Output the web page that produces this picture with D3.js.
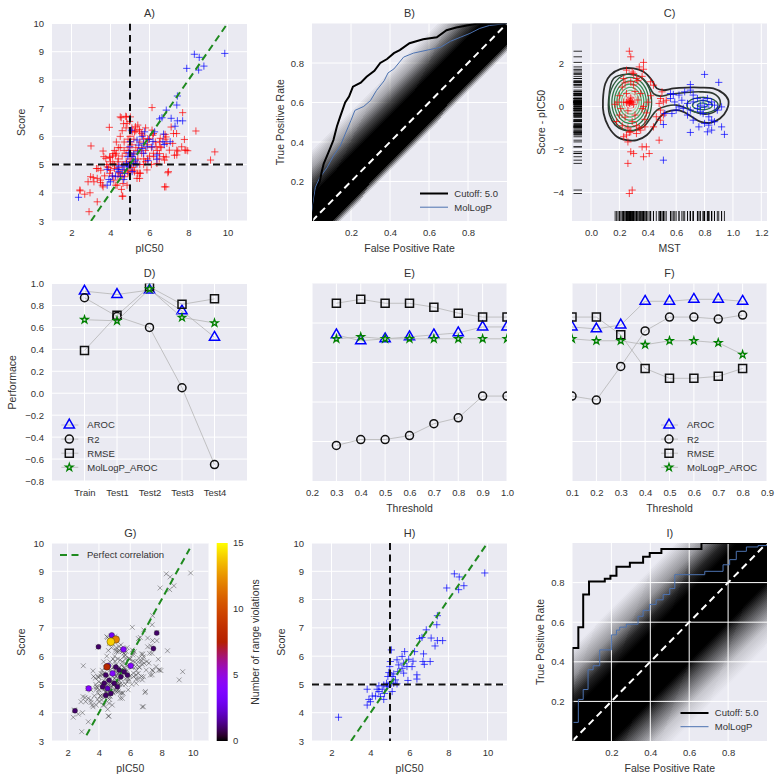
<!DOCTYPE html>
<html><head><meta charset="utf-8">
<script src="https://cdn.jsdelivr.net/npm/d3@7"></script>
<style>
body{margin:0;background:#fff;}
text{font-family:"Liberation Sans",Arial,sans-serif;fill:#333;}
</style></head><body>
<svg id="chart" width="784" height="783"></svg>
<script>
// ---------------- DATA ----------------
// Panel A / G / H : training set (red) and test set (blue), [pIC50, Score]
const trainPoints = [
[3.00,5.66],[2.44,4.07],[2.68,3.95],[2.95,4.00],[2.90,3.33],[3.32,3.68],[2.98,4.57],[2.85,4.39],[3.15,4.39],[3.32,4.51],
[3.49,4.36],[3.58,4.27],[3.36,4.86],[3.66,5.28],[3.97,5.25],[3.94,6.32],[4.26,5.34],[4.12,5.04],[4.17,4.45],[4.60,3.88],
[4.34,4.27],[4.55,6.66],[4.82,6.69],[5.02,6.69],[4.85,6.46],[5.11,6.16],[5.28,6.34],[5.50,6.16],[6.13,7.02],[6.13,6.22],
[6.55,5.93],[6.80,6.07],[7.23,6.10],[7.70,6.84],[8.38,6.19],[7.79,5.89],[7.82,5.51],[7.65,5.63],[6.89,5.75],[6.55,5.63],
[7.40,5.51],[7.40,5.34],[6.72,5.28],[6.21,5.28],[6.38,5.04],[6.97,4.75],[6.84,4.21],[9.13,5.16],[9.35,5.45],[7.96,5.49],
[5.87,4.81],[5.53,4.69],[5.36,4.51],[4.85,4.27],[4.63,3.88],[4.43,4.71],[3.83,4.92],
[3.62,5.48],[3.76,5.22],[3.96,5.27],[4.13,5.39],[4.38,5.10],[4.21,4.86],[3.28,4.86],[3.11,4.54],[3.48,4.45],[3.62,4.21],
[2.43,4.10],[4.50,6.69],[4.78,6.71],[4.98,6.53],[4.67,6.45],[5.23,6.16],[5.49,6.24],[5.66,6.04],[5.91,5.92],[6.17,6.04],
[6.51,5.80],[6.34,5.63],[6.85,5.98],[7.11,6.33],[7.39,6.10],[7.19,5.75],[7.02,5.51],[7.45,5.48],[7.87,5.51],[7.28,5.33],
[6.85,5.27],[6.51,5.39],[6.77,5.16],[6.94,4.71],[6.77,4.21],[5.49,4.51],[5.40,4.69],[5.23,4.74],[4.89,4.74],[4.72,4.57],
[4.38,4.57],[4.64,4.33],[4.56,4.12],[4.27,4.27],[3.96,4.69],
[4.3,5.4],[4.4,5.2],[4.5,5.6],[4.6,5.0],[4.6,5.3],[4.7,5.5],[4.7,5.8],[4.8,5.1],[4.8,5.4],[4.9,5.0],
[4.9,5.6],[4.9,5.9],[5.0,5.2],[5.0,5.5],[5.0,6.0],[5.1,4.9],[5.1,5.3],[5.1,5.7],[5.2,5.1],[5.2,5.4],
[5.2,5.9],[5.3,5.0],[5.3,5.6],[5.3,6.2],[5.4,5.2],[5.4,5.5],[5.5,5.8],[5.5,5.0],[5.6,5.4],[5.6,5.6],
[5.7,5.2],[5.7,5.9],[5.8,5.5],[5.8,5.1],[5.9,5.7],[6.0,5.3],[6.0,5.9],[6.1,5.6],[6.2,5.4],[6.3,5.8],
[6.4,5.5],[4.4,4.9],[4.5,4.7],[4.6,4.6],[4.2,5.0],[4.1,5.3],[4.0,5.1],[4.3,5.8],[4.5,6.0],[4.6,6.2],
[4.8,6.3],[5.1,6.3],[5.4,6.4],[4.7,4.8],[4.9,4.7],[5.2,4.8],[5.5,4.7],[5.0,4.8],[4.4,5.6],[4.2,5.5],
[3.9,4.9],[3.8,5.0],[4.0,4.8],[4.1,4.6],[3.7,4.6],[3.5,4.8],[5.7,5.0],[5.9,5.2],[6.1,5.0],[6.5,5.2],
[6.6,5.6],[6.8,5.9],[5.6,6.1],[5.8,6.3],[6.2,6.1]
];
const testPoints = [
[2.36,3.84],[8.30,8.91],[8.55,8.80],[9.86,8.94],[7.91,8.41],[8.79,8.49],[8.52,8.35],[7.43,7.43],[6.86,6.93],[6.64,6.66],
[6.52,6.62],[7.11,6.64],[7.43,6.55],[7.70,6.55],[7.31,6.36],[6.26,6.16],[5.75,6.16],[6.72,6.08],[7.40,7.11],[7.06,5.81],
[6.69,5.81],[6.76,5.71],[6.18,5.82],[6.13,5.63],[6.38,5.34],[6.38,5.19],[5.92,5.14],[5.96,5.89],[5.87,5.63],[5.62,5.99],
[5.70,5.75],[5.45,5.69],[5.70,5.40],[5.62,5.57],[5.36,5.87],[5.07,6.22],[5.02,5.81],[4.99,5.63],[4.94,5.42],[5.11,5.28],
[4.89,5.28],[5.19,5.37],[5.40,5.45],[5.28,5.16],[5.06,5.04],[4.82,5.04],[4.68,4.98],[4.43,4.95],[4.34,4.83],[4.60,4.83],
[4.85,4.92],[5.11,4.75],[5.36,5.02],[4.72,4.68],[4.51,4.57],[4.26,4.59],[4.09,4.59],[3.92,4.47],[3.83,4.83],[3.83,4.27],
[4.00,4.39],[4.68,4.47],[4.43,4.75],[5.19,5.04],[4.90,4.98]
];
const cutoff = 5.0;
const diagA = [3, 10];
const diagG = [3.2, 9.8];

// Panel B / I : ROC curves [FPR, TPR]
const rocB_cutoff = [[0,0],[0.01,0.08],[0.02,0.14],[0.03,0.18],[0.04,0.2],[0.05,0.25],[0.06,0.29],[0.077,0.33],[0.094,0.37],[0.11,0.41],[0.128,0.48],[0.145,0.53],[0.17,0.6],[0.19,0.63],[0.21,0.68],[0.25,0.70],[0.28,0.73],[0.32,0.76],[0.35,0.80],[0.385,0.82],[0.42,0.85],[0.45,0.865],[0.5,0.9],[0.57,0.92],[0.64,0.93],[0.69,0.966],[0.74,0.98],[0.795,0.99],[0.85,1.0],[1,1]];
const rocB_mollogp = [[0,0],[0,0.04],[0.017,0.17],[0.04,0.22],[0.077,0.27],[0.11,0.33],[0.145,0.38],[0.17,0.44],[0.2,0.51],[0.22,0.56],[0.265,0.58],[0.3,0.61],[0.33,0.66],[0.37,0.71],[0.39,0.75],[0.42,0.77],[0.47,0.83],[0.52,0.85],[0.59,0.865],[0.66,0.88],[0.71,0.91],[0.76,0.93],[0.81,0.95],[0.86,0.975],[0.91,0.99],[1,1]];
const rocI_cutoff = [[0,0],[0,0.47],[0.03,0.575],[0.055,0.74],[0.085,0.806],[0.166,0.82],[0.195,0.835],[0.226,0.88],[0.295,0.90],[0.363,0.93],[0.397,0.95],[0.457,0.97],[0.663,1.0],[1,1]];
const rocI_mollogp = [[0,0.094],[0.03,0.21],[0.055,0.26],[0.08,0.36],[0.106,0.38],[0.14,0.46],[0.2,0.536],[0.226,0.56],[0.243,0.575],[0.277,0.59],[0.337,0.63],[0.363,0.66],[0.397,0.69],[0.43,0.713],[0.466,0.74],[0.5,0.77],[0.526,0.84],[0.68,0.857],[0.774,0.89],[0.808,0.916],[0.842,0.958],[0.894,0.98],[0.954,0.987],[1,0.987]];
const rocLegend = ["Cutoff: 5.0", "MolLogP"];
// null-model band profile: [TPR-FPR offset, darkness]
const bandB = [[0.36,0],[0.27,0.3],[0.2,0.7],[0.13,1],[-0.1,1],[-0.145,0]];
const bandI = [[0.47,0],[0.33,0.35],[0.22,0.85],[0.15,1],[-0.2,1],[-0.3,0.6],[-0.42,0.15],[-0.52,0]];

// Panel C : [MST, Score - pIC50]
const cTrain = [
[0.27,2.57],[0.28,2.31],[0.37,2.05],[0.34,1.84],[0.37,1.73],[0.25,1.69],[0.30,1.53],[0.23,1.30],[0.28,1.15],[0.32,1.30],
[0.42,1.15],[0.44,0.99],[0.50,0.68],[0.49,0.37],[0.48,0.14],[0.51,0.21],[0.53,0.29],[0.49,-0.17],[0.51,-0.40],[0.46,-0.48],
[0.49,-0.64],[0.44,-0.95],[0.38,-0.95],[0.35,-1.10],[0.32,-1.26],[0.28,-1.18],[0.25,-1.33],[0.23,-1.41],[0.26,-1.65],[0.48,-1.57],
[0.36,-1.88],[0.39,-1.88],[0.28,-2.11],[0.30,-2.19],[0.41,-2.19],[0.37,-2.34],[0.26,-2.65],[0.29,-3.89],[0.27,-4.05],
[0.20,0.5],[0.22,0.9],[0.25,0.6],[0.28,0.4],[0.30,0.1],[0.26,-0.2],[0.24,-0.5],[0.29,-0.7],[0.31,-0.4],[0.33,0.3],
[0.35,0.6],[0.36,-0.1],[0.38,-0.6],[0.40,0.2],[0.42,0.5],[0.21,-0.1],[0.19,0.2],[0.23,0.2],[0.27,0.15],[0.28,0.25],
[0.26,0.2],[0.27,0.22],[0.25,0.18],[0.29,0.2],[0.32,-0.9],[0.34,-1.0],[0.22,-0.9],[0.26,-1.0],[0.30,1.0],[0.33,1.2],
[0.24,1.1],[0.20,-0.4],[0.37,0.0],[0.39,-0.3],[0.31,0.7],[0.27,-1.2],[0.29,1.6],[0.36,1.4],[0.17,0.1],[0.18,-0.7]
];
const cTest = [
[0.80,1.49],[0.90,1.12],[0.70,1.02],[0.58,0.56],[0.62,0.53],[0.66,0.68],[0.70,0.76],[0.72,0.53],[0.56,0.37],[0.59,0.21],
[0.64,0.29],[0.68,0.14],[0.72,0.21],[0.75,0.37],[0.79,0.29],[0.82,0.37],[0.85,0.21],[0.87,0.06],[0.92,-0.02],[0.77,0.06],
[0.80,-0.02],[0.83,0.09],[0.75,-0.09],[0.70,-0.17],[0.65,-0.09],[0.62,-0.02],[0.57,-0.33],[0.52,-0.33],[0.51,-0.84],[0.60,-0.17],
[0.79,-0.33],[0.83,-0.48],[0.85,-0.64],[0.80,-0.79],[0.83,-0.87],[0.87,-0.71],[0.92,-0.95],[0.70,-1.21],[0.82,-1.18],[0.85,-1.10],
[0.94,-1.30],[0.51,-2.50],[0.89,-0.17],[0.77,-0.25],[0.68,-0.40],[0.72,-0.64],[0.76,-0.95],[0.56,0.60]
];
const cContourOuter = [[0.084,0.29],[0.101,1.07],[0.136,1.46],[0.206,1.74],[0.3,1.77],[0.37,1.61],[0.429,1.22],[0.464,0.84],[0.511,0.76],[0.581,0.84],[0.675,0.88],[0.769,0.88],[0.862,0.84],[0.933,0.6],[0.968,0.29],[0.956,-0.17],[0.909,-0.56],[0.839,-0.76],[0.769,-0.71],[0.71,-0.48],[0.652,-0.25],[0.605,-0.17],[0.534,-0.25],[0.487,-0.48],[0.44,-0.95],[0.394,-1.33],[0.323,-1.57],[0.253,-1.57],[0.183,-1.41],[0.124,-0.95],[0.089,-0.33]];
const cContourInner = [[0.124,0.29],[0.159,1.30],[0.253,1.50],[0.347,1.38],[0.405,0.99],[0.44,0.60],[0.487,0.48],[0.558,0.57],[0.652,0.64],[0.769,0.68],[0.862,0.60],[0.909,0.29],[0.898,-0.09],[0.839,-0.33],[0.769,-0.33],[0.675,-0.09],[0.605,0.06],[0.534,0.02],[0.464,-0.17],[0.417,-0.56],[0.37,-0.95],[0.30,-1.13],[0.23,-1.10],[0.171,-0.87],[0.131,-0.40]];
const cLeftPeak = [0.277, 0.2];
const cLeftRx = [0.15,0.13,0.112,0.095,0.078,0.062,0.047,0.033,0.02,0.01];
const cLeftRy = [1.32,1.15,0.99,0.84,0.69,0.55,0.42,0.29,0.17,0.09];
const cRightPeak = [0.785, 0.06];
const cRightRx = [0.11,0.07,0.035];
const cRightRy = [0.36,0.21,0.1];

// Panel D
const dCategories = ["Train","Test1","Test2","Test3","Test4"];
const dAROC   = [0.93, 0.90, 0.94, 0.75, 0.51];
const dR2     = [0.87, 0.70, 0.60, 0.05, -0.65];
const dRMSE   = [0.39, 0.71, 0.97, 0.81, 0.86];
const dMolAROC= [0.67, 0.66, 0.95, 0.69, 0.64];
// Panel E
const eThreshold = [0.3,0.4,0.5,0.6,0.7,0.8,0.9,1.0];
const eAROC   = [0.74,0.71,0.72,0.73,0.74,0.75,0.78,0.78];
const eR2     = [0.18,0.21,0.21,0.23,0.29,0.32,0.43,0.43];
const eRMSE   = [0.90,0.92,0.90,0.90,0.88,0.85,0.83,0.83];
const eMolAROC= [0.72,0.73,0.72,0.72,0.72,0.72,0.72,0.72];
// Panel F
const fThreshold = [0.1,0.2,0.3,0.4,0.5,0.6,0.7,0.8];
const fAROC   = [0.78,0.77,0.79,0.91,0.91,0.92,0.92,0.91];
const fR2     = [0.43,0.41,0.58,0.76,0.83,0.83,0.82,0.84];
const fRMSE   = [0.83,0.83,0.74,0.57,0.52,0.52,0.53,0.57];
const fMolAROC= [0.72,0.71,0.71,0.69,0.71,0.71,0.70,0.64];
const metricNames = ["AROC","R2","RMSE","MolLogP_AROC"];

// Panel G : compounds with range violations
const vioPIC50 = [2.47,3.34,3.97,4.82,5.08,4.76,5.57,6.03,7.69,7.48,4.51,4.59,4.87,4.44,4.65,5.29,4.97,5.40,4.34,4.55,4.76,4.44,4.23,5.08,5.61,5.18,5.82];
const vioScore = [4.07,4.86,6.33,6.74,6.59,6.51,6.24,5.66,6.82,6.27,5.62,5.66,5.39,5.33,5.15,5.51,5.04,5.27,5.04,4.86,4.68,4.62,4.92,5.62,5.45,4.92,5.33];
const vioCount = [1,4,1,3,12,14,4,4,1,1,8,3,4,1,1,1,1,1,1,2,1,1,1,1,1,1,1];

// Ticks
const pTicksX = [2,4,6,8,10], pTicksY = [3,4,5,6,7,8,9,10];
const rocTicks = [0.2,0.4,0.6,0.8];
const cTicksX = [0,0.2,0.4,0.6,0.8,1.0,1.2], cTicksY = [-4,-2,0,2];
const dTicksY = [-0.8,-0.6,-0.4,-0.2,0,0.2,0.4,0.6,0.8,1.0];
const eTicksX = [0.2,0.3,0.4,0.5,0.6,0.7,0.8,0.9,1.0];
const fTicksX = [0.1,0.2,0.3,0.4,0.5,0.6,0.7,0.8,0.9];
const efGridY = [0.2,0.4,0.6,0.8];
const cbTicks = [0,5,10,15];

// ---------------- DRAWING ----------------
const svg = d3.select('#chart');
const BG = '#EAEAF2';
const FT = 9.5, FL = 10.5, FTT = 11, FLEG = 9.5;
const defs = svg.append('defs');
const f1 = d3.format('.1f'), fi = d3.format('d');

function panel(key, box, xs, ys, o) {
  const g = svg.append('g').attr('transform', `translate(${box.x},${box.y})`);
  g.append('rect').attr('width', box.w).attr('height', box.h).attr('fill', BG);
  defs.append('clipPath').attr('id', 'clip' + key).append('rect').attr('width', box.w).attr('height', box.h);
  const under = g.append('g').attr('clip-path', `url(#clip${key})`);
  const grid = g.append('g');
  (o.xGrid || []).forEach(v => grid.append('line').attr('x1', xs(v)).attr('x2', xs(v)).attr('y1', 0).attr('y2', box.h));
  (o.yGrid || []).forEach(v => grid.append('line').attr('y1', ys(v)).attr('y2', ys(v)).attr('x1', 0).attr('x2', box.w));
  grid.selectAll('line').attr('stroke', '#fff').attr('stroke-width', 1);
  const body = g.append('g').attr('clip-path', `url(#clip${key})`);
  if (o.xTicks) {
    const ax = g.append('g').attr('transform', `translate(0,${box.h})`)
      .call(d3.axisBottom(xs).tickValues(o.xTicks).tickFormat(o.xFmt).tickSize(0).tickPadding(8));
    ax.select('.domain').remove();
    ax.attr('font-family', null).attr('font-size', FT);
  }
  if (o.yTicks) {
    const ay = g.append('g').call(d3.axisLeft(ys).tickValues(o.yTicks).tickFormat(o.yFmt).tickSize(0).tickPadding(8));
    ay.select('.domain').remove();
    ay.attr('font-family', null).attr('font-size', FT);
  }
  if (o.title) g.append('text').attr('x', box.w / 2).attr('y', -6.3).attr('text-anchor', 'middle').attr('font-size', FTT).text(o.title);
  if (o.xLabel) g.append('text').attr('x', box.w / 2).attr('y', box.h + 30.7).attr('text-anchor', 'middle').attr('font-size', FL).text(o.xLabel);
  if (o.yLabel) g.append('text').attr('transform', `translate(${o.yLabelX},${box.h / 2}) rotate(-90)`).attr('text-anchor', 'middle').attr('font-size', FL).text(o.yLabel);
  return { g, under, grid, body };
}

const W = 195, H1 = 197.5, H3 = 198;
const plusPath = 'M-3.6,0H3.6M0,-3.6V3.6';
const xPath = 'M-2.4,-2.4L2.4,2.4M-2.4,2.4L2.4,-2.4';

function scatterPlus(layer, pts, xs, ys, color) {
  layer.append('g').selectAll('path').data(pts).join('path')
    .attr('d', plusPath).attr('transform', d => `translate(${xs(d[0])},${ys(d[1])})`)
    .attr('fill', 'none').attr('stroke', color).attr('stroke-width', 1).attr('stroke-opacity', 0.7);
}
function dashed(layer, x1, y1, x2, y2, color) {
  layer.append('line').attr('x1', x1).attr('y1', y1).attr('x2', x2).attr('y2', y2)
    .attr('stroke', color).attr('stroke-width', 2).attr('stroke-dasharray', '7,4.5');
}

// ---- A ----
{
  const box = { x: 52, y: 23.5, w: W, h: H1 };
  const xs = d3.scaleLinear([1, 11], [0, W]), ys = d3.scaleLinear([3, 10], [H1, 0]);
  const p = panel('A', box, xs, ys, { xGrid: pTicksX, yGrid: pTicksY, xTicks: pTicksX, yTicks: pTicksY, xFmt: fi, yFmt: fi, title: 'A)', xLabel: 'pIC50', yLabel: 'Score', yLabelX: -26.6 });
  scatterPlus(p.body, trainPoints, xs, ys, '#ff0000');
  scatterPlus(p.body, testPoints, xs, ys, '#0000ff');
  dashed(p.body, xs(cutoff), 0, xs(cutoff), H1, '#111');
  dashed(p.body, 0, ys(cutoff), W, ys(cutoff), '#111');
  dashed(p.body, xs(diagA[0]), ys(diagA[0]), xs(diagA[1]), ys(diagA[1]), '#1f8a1f');
}

// ---- ROC helper ----
function drawBand(layer, xs, ys, band) {
  const ds = band.map(s => s[0]), ops = band.map(s => s[1]);
  const opScale = d3.scaleLinear().domain(ds).range(ops).clamp(true);
  const dMin = d3.min(ds), dMax = d3.max(ds), step = 0.01;
  const bg = layer.append('g').attr('shape-rendering', 'crispEdges');
  for (let i = 0; dMin + i * step < dMax; i++) {
    const d = dMin + i * step, op = opScale(d + step / 2);
    if (op <= 0.003) continue;
    const pts = [[-1, -1 + d], [2, 2 + d], [2, 2 + d + step], [-1, -1 + d + step]];
    bg.append('path').attr('d', 'M' + pts.map(q => xs(q[0]).toFixed(2) + ',' + ys(q[1]).toFixed(2)).join('L') + 'Z')
      .attr('fill', '#000').attr('fill-opacity', op);
  }
}
function rocPanel(key, box, title, band, curves, step, gridOnTop) {
  const xs = d3.scaleLinear([0, 1], [0, box.w]), ys = d3.scaleLinear([0, 1], [box.h, 0]);
  const p = panel(key, box, xs, ys, { xGrid: rocTicks, yGrid: rocTicks, xTicks: rocTicks, yTicks: rocTicks, xFmt: f1, yFmt: f1, title, xLabel: 'False Positive Rate', yLabel: 'True Positive Rate', yLabelX: -28.3 });
  drawBand(gridOnTop ? p.under : p.body, xs, ys, band);
  dashed(p.body, xs(0), ys(0), xs(1), ys(1), '#fff');
  const line = d3.line().x(d => xs(d[0])).y(d => ys(d[1])).curve(step ? d3.curveStepAfter : d3.curveLinear);
  p.body.append('path').datum(curves[1]).attr('d', line).attr('fill', 'none').attr('stroke', '#4C72B0').attr('stroke-width', 1);
  p.body.append('path').datum(curves[0]).attr('d', line).attr('fill', 'none').attr('stroke', '#000').attr('stroke-width', 2);
  const lg = p.g.append('g');
  [['#000', 2], ['#4C72B0', 1]].forEach((s, i) => {
    const y = 170 + i * 13.7;
    lg.append('line').attr('x1', 108).attr('x2', 136).attr('y1', y).attr('y2', y).attr('stroke', s[0]).attr('stroke-width', s[1]);
    lg.append('text').attr('x', 142.3).attr('y', y + 3.4).attr('font-size', FLEG).text(rocLegend[i]);
  });
}
rocPanel('B', { x: 312, y: 23.5, w: W, h: H1 }, 'B)', bandB, [rocB_cutoff, rocB_mollogp], false, false);
rocPanel('I', { x: 572.5, y: 543, w: W - 0.5, h: H3 }, 'I)', bandI, [rocI_cutoff, rocI_mollogp], true, true);

// ---- C ----
{
  const box = { x: 572, y: 23.5, w: W, h: H1 };
  const xs = d3.scaleLinear([-0.134, 1.24], [0, W]), ys = d3.scaleLinear([-5.33, 3.86], [H1, 0]);
  const p = panel('C', box, xs, ys, { xGrid: cTicksX, yGrid: cTicksY, xTicks: cTicksX, yTicks: cTicksY, xFmt: f1, yFmt: fi, title: 'C)', xLabel: 'MST', yLabel: 'Score - pIC50', yLabelX: -26.6 });
  const closed = d3.line().x(d => xs(d[0])).y(d => ys(d[1])).curve(d3.curveCatmullRomClosed);
  const ellipse = (c, rx, ry) => d3.range(48).map(i => [c[0] + rx * Math.cos(i / 48 * 2 * Math.PI), c[1] + ry * Math.sin(i / 48 * 2 * Math.PI)]);
  const leftCols = ['#2b5a3b', '#2f7345', '#348a52', '#3f9d5e', '#58ad70', '#7fc08c', '#b9cfb5', '#e9b4b4', '#f07a7a', '#f02a2a'];
  const rightCols = ['#2b5a3b', '#2f7345', '#3d8f58'];
  const cg = p.body.append('g').attr('fill', 'none');
  cg.append('path').datum(cContourOuter).attr('d', closed).attr('stroke', '#2a2a2a').attr('stroke-width', 1.8);
  cg.append('path').datum(cContourInner).attr('d', closed).attr('stroke', '#2e3a31').attr('stroke-width', 1.6);
  cLeftRx.forEach((rx, i) => cg.append('path').datum(ellipse(cLeftPeak, rx, cLeftRy[i])).attr('d', closed)
    .attr('stroke', leftCols[i]).attr('stroke-width', 1.3).attr('fill', i === cLeftRx.length - 1 ? '#f02020' : 'none'));
  cRightRx.forEach((rx, i) => cg.append('path').datum(ellipse(cRightPeak, rx, cRightRy[i])).attr('d', closed)
    .attr('stroke', rightCols[i]).attr('stroke-width', 1.3));
  scatterPlus(p.body, cTrain, xs, ys, '#ff0000');
  scatterPlus(p.body, cTest, xs, ys, '#0000ff');
  const all = cTrain.concat(cTest);
  const rug = p.body.append('g').attr('stroke', '#000').attr('stroke-width', 0.8);
  all.forEach(d => rug.append('line').attr('x1', xs(d[0])).attr('x2', xs(d[0])).attr('y1', H1 - 10).attr('y2', H1));
  all.forEach(d => rug.append('line').attr('y1', ys(d[1])).attr('y2', ys(d[1])).attr('x1', 1.5).attr('x2', 10));
}

// ---- D, E, F ----
const symTri = d3.symbol(d3.symbolTriangle, 45)(), symSq = d3.symbol(d3.symbolSquare, 64)(),
      symCirc = d3.symbol(d3.symbolCircle, 50)(), symStar = d3.symbol(d3.symbolStar, 17)();
const metricStyles = [
  { sym: symTri, stroke: '#0000ff', sw: 1.5 },
  { sym: symCirc, stroke: '#111', sw: 1.5 },
  { sym: symSq, stroke: '#111', sw: 1.5 },
  { sym: symStar, stroke: '#008000', sw: 1.3 }
];
function metricSeries(layer, xsF, ys, xVals, series) {
  series.forEach((vals, k) => {
    const pts = vals.map((v, i) => [xsF(xVals[i]), ys(v)]);
    layer.append('path').attr('d', d3.line()(pts)).attr('fill', 'none').attr('stroke', '#b5b5b5').attr('stroke-width', 0.8);
    const st = metricStyles[k];
    pts.forEach(pt => layer.append('path').attr('d', st.sym).attr('transform', `translate(${pt[0]},${pt[1]})`)
      .attr('fill', 'none').attr('stroke', st.stroke).attr('stroke-width', st.sw));
  });
}
function metricLegend(g, x0) {
  metricNames.forEach((name, k) => {
    const y = 141.5 + k * 14.1, st = metricStyles[k];
    g.append('line').attr('x1', x0 - 8).attr('x2', x0 + 9).attr('y1', y).attr('y2', y).attr('stroke', '#b5b5b5').attr('stroke-width', 0.8);
    g.append('path').attr('d', st.sym).attr('transform', `translate(${x0},${y})`).attr('fill', 'none').attr('stroke', st.stroke).attr('stroke-width', st.sw);
    g.append('text').attr('x', x0 + 18).attr('y', y + 3.4).attr('font-size', FLEG).text(name);
  });
}
{
  const box = { x: 52, y: 283.5, w: W, h: H1 };
  const xs = d3.scalePoint(dCategories, [0, W]).padding(1), ys = d3.scaleLinear([-0.8, 1.0], [H1, 0]);
  const p = panel('D', box, xs, ys, { xGrid: dCategories, yGrid: dTicksY, xTicks: dCategories, yTicks: dTicksY, xFmt: d => d, yFmt: f1, title: 'D)', yLabel: 'Performace', yLabelX: -35.6 });
  metricSeries(p.body, xs, ys, dCategories, [dAROC, dR2, dRMSE, dMolAROC]);
  metricLegend(p.g, 17.3);
}
{
  const box = { x: 312, y: 283.5, w: W, h: H1 };
  const xs = d3.scaleLinear([0.2, 1.0], [0, W]), ys = d3.scaleLinear([0, 1], [H1, 0]);
  const p = panel('E', box, xs, ys, { xGrid: eTicksX, yGrid: efGridY, xTicks: eTicksX, xFmt: f1, title: 'E)', xLabel: 'Threshold' });
  metricSeries(p.body, xs, ys, eThreshold, [eAROC, eR2, eRMSE, eMolAROC]);
}
{
  const box = { x: 572, y: 283.5, w: W, h: H1 };
  const xs = d3.scaleLinear([0.1, 0.9], [0, W]), ys = d3.scaleLinear([0, 1], [H1, 0]);
  const p = panel('F', box, xs, ys, { xGrid: fTicksX, yGrid: efGridY, xTicks: fTicksX, xFmt: f1, title: 'F)', xLabel: 'Threshold' });
  metricSeries(p.body, xs, ys, fThreshold, [fAROC, fR2, fRMSE, fMolAROC]);
  metricLegend(p.g, 97);
}

// ---- G ----
function gnuplot(t) {
  t = Math.max(0, Math.min(1, t));
  return d3.rgb(255 * Math.sqrt(t), 255 * t * t * t, 255 * Math.max(0, Math.sin(2 * Math.PI * t))).formatHex();
}
{
  const box = { x: 52, y: 543, w: 156.5, h: H3 };
  const xs = d3.scaleLinear([1, 11], [0, box.w]), ys = d3.scaleLinear([3, 10], [H3, 0]);
  const p = panel('G', box, xs, ys, { xGrid: pTicksX, yGrid: pTicksY, xTicks: pTicksX, yTicks: pTicksY, xFmt: fi, yFmt: fi, title: 'G)', xLabel: 'pIC50', yLabel: 'Score', yLabelX: -26.6 });
  const allPts = trainPoints.concat(testPoints);
  p.body.append('g').selectAll('path').data(allPts).join('path').attr('d', xPath)
    .attr('transform', d => `translate(${xs(d[0])},${ys(d[1])})`).attr('fill', 'none')
    .attr('stroke', '#333').attr('stroke-width', 0.8).attr('stroke-opacity', 0.55);
  dashed(p.body, xs(diagG[0]), ys(diagG[0]), xs(diagG[1]), ys(diagG[1]), '#1f8a1f');
  const cmax = d3.max(cbTicks);
  const idx = d3.range(vioCount.length).sort((a, b) => vioCount[a] - vioCount[b]);
  p.body.append('g').selectAll('circle').data(idx).join('circle')
    .attr('cx', i => xs(vioPIC50[i])).attr('cy', i => ys(vioScore[i])).attr('r', i => 2.4 + 0.11 * vioCount[i])
    .attr('fill', i => gnuplot(vioCount[i] / cmax)).attr('stroke', '#222').attr('stroke-width', 0.4);
  dashed(p.g, 8, 12, 28, 12, '#1f8a1f');
  p.g.append('text').attr('x', 35).attr('y', 15.4).attr('font-size', FLEG).text('Perfect correlation');
  const cb = { x: 216.7 - box.x, w: 11 };
  const cgr = defs.append('linearGradient').attr('id', 'cbgrad').attr('x1', 0).attr('y1', 1).attr('x2', 0).attr('y2', 0);
  d3.range(41).forEach(i => cgr.append('stop').attr('offset', i / 40).attr('stop-color', gnuplot(i / 40)));
  p.g.append('rect').attr('x', cb.x).attr('y', 0).attr('width', cb.w).attr('height', H3).attr('fill', 'url(#cbgrad)');
  const cs = d3.scaleLinear([0, cmax], [H3, 0]);
  cbTicks.forEach(v => p.g.append('text').attr('x', cb.x + cb.w + 5.3).attr('y', cs(v) + 3.3).attr('font-size', FT).text(v));
  p.g.append('text').attr('transform', `translate(${258.7 - box.x},${H3 / 2}) rotate(-90)`).attr('text-anchor', 'middle')
    .attr('font-size', FL).text('Number of range violations');
}

// ---- H ----
{
  const box = { x: 312, y: 543, w: W, h: H3 };
  const xs = d3.scaleLinear([1, 11], [0, W]), ys = d3.scaleLinear([3, 10], [H3, 0]);
  const p = panel('H', box, xs, ys, { xGrid: pTicksX, yGrid: pTicksY, xTicks: pTicksX, yTicks: pTicksY, xFmt: fi, yFmt: fi, title: 'H)', xLabel: 'pIC50', yLabel: 'Score', yLabelX: -26.6 });
  scatterPlus(p.body, testPoints, xs, ys, '#0000ff');
  dashed(p.body, xs(cutoff), 0, xs(cutoff), H3, '#111');
  dashed(p.body, 0, ys(cutoff), W, ys(cutoff), '#111');
  dashed(p.body, xs(diagA[0]), ys(diagA[0]), xs(diagA[1]), ys(diagA[1]), '#1f8a1f');
}
</script></body></html>
